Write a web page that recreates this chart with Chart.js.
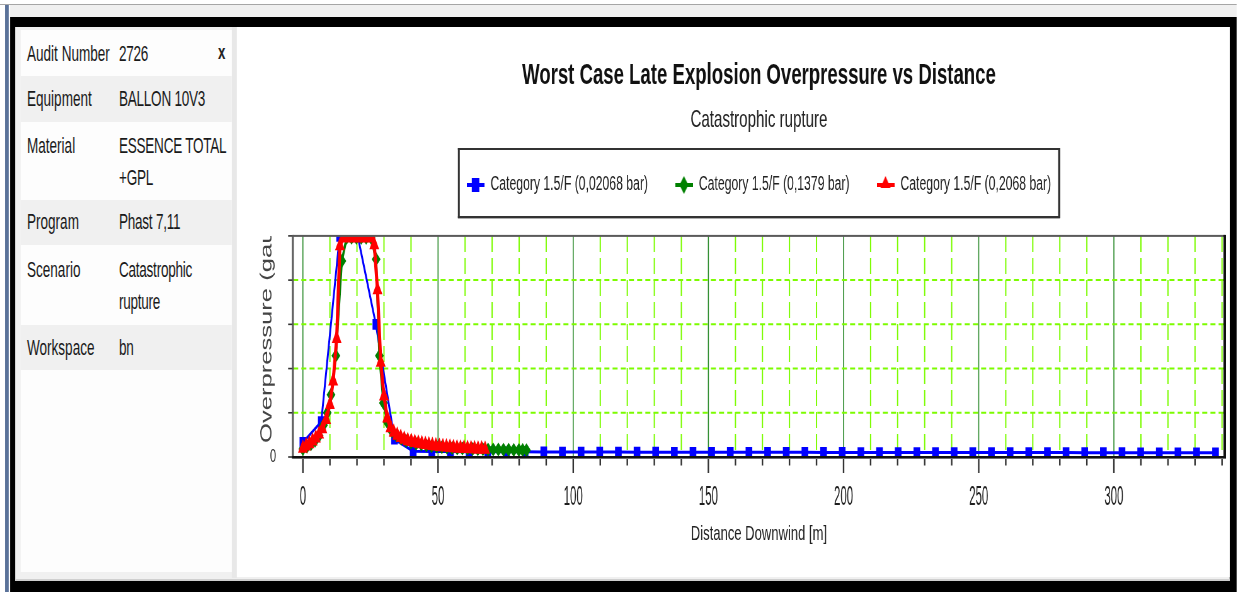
<!DOCTYPE html>
<html>
<head>
<meta charset="utf-8">
<script src="https://cdn.jsdelivr.net/npm/chart.js@4.4.1/dist/chart.umd.min.js"></script>
<style>
  :root { --k: 0.63; }
  html, body { margin: 0; padding: 0; overflow: hidden; background: #fff; }
  #stage {
    position: absolute; left: 0; top: 0;
    width: calc(1237px / var(--k)); height: 592px;
    transform: scaleX(var(--k)); transform-origin: 0 0;
    font-family: "Liberation Sans", Arial, sans-serif;
  }
  .r { position: absolute; }
  #panel { position: absolute; left: calc(21px / var(--k)); top: 30px; width: calc(211px / var(--k)); height: 542px; background: #fdfdfd; }
  .row { position: absolute; left: 0; width: 100%; font-size: 21.5px; line-height: 32px; color: #1a1a1a; box-sizing: border-box; }
  .row.alt { background: #f0f0f0; }
  .lab { position: absolute; left: calc(6px / var(--k)); }
  .val { position: absolute; left: calc(98px / var(--k)); letter-spacing: -0.4px; }
  .close { position: absolute; left: calc(197px / var(--k)); top: 6px; font-weight: bold; font-size: 21px; line-height: 32px; color: #222; }
  #plotWrap { position: absolute; left: calc(238px / var(--k)); top: 27px; }
  #plotWrap canvas { display: block; }
</style>
</head>
<body>
<div id="stage">
  <div class="r" style="left:0;top:4px;width:calc(1237px / var(--k));height:1px;background:#a6a6a6"></div>
  <div class="r" style="left:calc(5px / var(--k));top:5px;width:calc(4px / var(--k));height:587px;background:#5a7299"></div>
  <div class="r" style="left:calc(10px / var(--k));top:5px;width:calc(1227px / var(--k));height:12px;background:#f0f0f0"></div>
  <div class="r" style="left:calc(10px / var(--k));top:17px;width:calc(1227px / var(--k));height:575px;background:#000"></div>
  <div class="r" style="left:calc(15px / var(--k));top:27px;width:calc(1215px / var(--k));height:554px;background:#f0f0f0"></div>
  <div class="r" style="left:calc(15px / var(--k));top:579px;width:calc(1215px / var(--k));height:2px;background:#cfcfcf"></div>
  <div class="r" style="left:calc(232px / var(--k));top:27px;width:calc(5px / var(--k));height:551px;background:#e8e8e8"></div>
  <div class="r" style="left:calc(237px / var(--k));top:27px;width:calc(993px / var(--k));height:550px;background:#fff"></div>

  <div id="panel">
    <div class="row" style="top:0;height:46px;padding-top:8px"><span class="lab">Audit Number</span><span class="val">2726</span></div>
    <div class="close">x</div>
    <div class="row alt" style="top:46px;height:46px;padding-top:7px"><span class="lab">Equipment</span><span class="val">BALLON 10V3</span></div>
    <div class="row" style="top:92px;height:78px;padding-top:8px"><span class="lab">Material</span><span class="val">ESSENCE TOTAL<br>+GPL</span></div>
    <div class="row alt" style="top:170px;height:45px;padding-top:6px"><span class="lab">Program</span><span class="val">Phast 7,11</span></div>
    <div class="row" style="top:215px;height:80px;padding-top:9px"><span class="lab">Scenario</span><span class="val">Catastrophic<br>rupture</span></div>
    <div class="row alt" style="top:295px;height:45px;padding-top:7px"><span class="lab">Workspace</span><span class="val">bn</span></div>
  </div>

  <div id="plotWrap"><canvas id="chart"></canvas></div>
</div>

<script>
// ---- chart text ----
const chartTitle = 'Worst Case Late Explosion Overpressure vs Distance';
const chartSubtitle = 'Catastrophic rupture';
const xTitle = 'Distance Downwind [m]';
const yTitle = 'Overpressure (gauge) [bar]';
const seriesLabels = [
  'Category 1.5/F (0,02068 bar)',
  'Category 1.5/F (0,1379 bar)',
  'Category 1.5/F (0,2068 bar)'
];
const xTickLabels = ['0', '50', '100', '150', '200', '250', '300'];
const yTickLabels = ['0'];

// ---- series: distance [m] and overpressure ----
const blueX = [0, 6.8, 13.6, 20.3, 27.0, 33.9, 40.8, 47.7, 54.6, 61.5,
  68.4, 75.3, 82.2, 89.1, 96.0, 102.9, 109.8, 116.7, 123.6, 130.5,
  137.4, 144.3, 151.2, 158.1, 165.0, 171.9, 178.8, 185.7, 192.6, 199.5,
  206.4, 213.3, 220.2, 227.1, 234.0, 240.9, 247.8, 254.7, 261.6, 268.5,
  275.4, 282.3, 289.2, 296.1, 303.0, 309.9, 316.8, 323.7, 330.6, 337.6];
const blueY = [0.33, 0.80, 4.99, 4.99, 3.00, 0.40, 0.13, 0.125, 0.122, 0.12,
  0.118, 0.117, 0.116, 0.115, 0.114, 0.113, 0.112, 0.111, 0.110, 0.110,
  0.109, 0.108, 0.108, 0.107, 0.106, 0.106, 0.105, 0.105, 0.104, 0.104,
  0.103, 0.103, 0.102, 0.102, 0.101, 0.101, 0.100, 0.100, 0.100, 0.099,
  0.099, 0.099, 0.098, 0.098, 0.098, 0.097, 0.097, 0.097, 0.096, 0.096];

const greenX = [0, 1.5, 3.0, 4.5, 6.0, 7.6, 9.0, 10.4, 12.2, 14.4,
  16.2, 18.0, 19.8, 21.6, 23.4, 25.2, 27.1, 28.3, 29.8, 31.3,
  32.9, 34.6, 36.4, 38.2, 40.0, 41.9, 43.8, 45.7, 47.6, 49.5,
  51.4, 53.3, 55.2, 57.1, 59.0, 60.9, 62.8, 64.7, 66.6, 68.5,
  70.4, 72.3, 74.2, 76.1, 78.0, 79.9, 81.3, 82.7];
const greenY = [0.18, 0.23, 0.29, 0.37, 0.48, 0.72, 1.00, 1.41, 2.29, 4.43,
  4.96, 4.96, 4.96, 4.96, 4.96, 4.96, 4.47, 2.29, 1.22, 0.78,
  0.58, 0.48, 0.41, 0.36, 0.33, 0.30, 0.28, 0.26, 0.245, 0.23,
  0.22, 0.21, 0.20, 0.195, 0.19, 0.185, 0.18, 0.178, 0.175, 0.172,
  0.17, 0.168, 0.165, 0.163, 0.16, 0.158, 0.156, 0.155];

const redX = [0, 1.2, 2.4, 3.6, 4.8, 6.0, 7.2, 8.6, 10.0, 11.2,
  12.5, 13.7, 15.0, 16.3, 17.6, 18.9, 20.2, 21.5, 22.8, 24.1,
  25.4, 26.4, 27.6, 28.8, 30.0, 31.2, 32.4, 33.6, 34.9, 36.2,
  37.5, 38.8, 40.1, 41.4, 42.7, 44.0, 45.3, 46.6, 47.9, 49.2,
  50.5, 51.8, 53.1, 54.4, 55.7, 57.0, 58.3, 59.6, 60.9, 62.2,
  63.5, 64.8, 66.1, 67.4];
const redY = [0.20, 0.25, 0.30, 0.36, 0.43, 0.52, 0.64, 0.85, 1.19, 1.72,
  2.68, 4.78, 4.96, 4.96, 4.96, 4.96, 4.96, 4.96, 4.96, 4.96,
  4.96, 4.80, 3.78, 2.14, 1.38, 0.88, 0.66, 0.56, 0.49, 0.44,
  0.40, 0.37, 0.35, 0.33, 0.31, 0.30, 0.285, 0.27, 0.26, 0.25,
  0.24, 0.232, 0.225, 0.218, 0.212, 0.206, 0.20, 0.196, 0.192, 0.188,
  0.185, 0.182, 0.179, 0.176];

// ---- geometry (the whole window is drawn wide, then squeezed by K) ----
const K = 0.63;
document.documentElement.style.setProperty('--k', K);
const FONT = '"Liberation Sans", Arial, sans-serif';
const CW = Math.round(992 / K);
const CH = 553;
const PLOT_LEFT = 55 / K;
const PLOT_RIGHT = 990 / K;
const PLOT_BOTTOM = 430;

const BLUE = '#0000ff', GREEN = '#008000', RED = '#ff0000';
const LIME = '#7cfc00', DARKGREEN = '#2b8a2b';

const pts = (xs, ys) => xs.map((x, i) => ({ x: x, y: ys[i] }));

// legend symbols: short line with the series marker on it
function legendIcon(color, shape) {
  const c = document.createElement('canvas');
  c.width = 28; c.height = 20;
  const g = c.getContext('2d');
  g.fillStyle = color;
  g.fillRect(0, 8, 28, 4);
  g.beginPath();
  if (shape === 'rect') {
    g.rect(8, 3, 12, 14);
  } else if (shape === 'diamond') {
    g.moveTo(14, 1); g.lineTo(21, 10); g.lineTo(14, 19); g.lineTo(7, 10); g.closePath();
  } else {
    g.moveTo(14, 1); g.lineTo(22, 13); g.lineTo(6, 13); g.closePath();
  }
  g.fill();
  return c;
}
const legendIcons = [legendIcon(BLUE, 'rect'), legendIcon(GREEN, 'diamond'), legendIcon(RED, 'triangle')];

// grid: dashed lime every 10 m / every unit, solid green every 50 m
const plotGrid = {
  id: 'plotGrid',
  beforeDatasetsDraw(chart) {
    const { ctx, chartArea: a, scales: { x, y } } = chart;
    ctx.save();
    for (const t of x.ticks) {
      const px = x.getPixelForValue(t.value);
      if (px < a.left || px > a.right) continue;
      ctx.beginPath();
      if (t.value % 50 === 0) {
        ctx.setLineDash([]); ctx.strokeStyle = DARKGREEN; ctx.lineWidth = 1.6;
      } else {
        ctx.setLineDash([16, 6]); ctx.strokeStyle = LIME; ctx.lineWidth = 2;
      }
      ctx.moveTo(px, a.top); ctx.lineTo(px, a.bottom); ctx.stroke();
    }
    for (const t of y.ticks) {
      const py = y.getPixelForValue(t.value);
      if (py <= a.top + 1) continue;
      ctx.beginPath();
      if (t.value === 0) {
        ctx.setLineDash([]); ctx.strokeStyle = DARKGREEN; ctx.lineWidth = 1.5;
      } else {
        ctx.setLineDash([8, 5]); ctx.strokeStyle = LIME; ctx.lineWidth = 2;
      }
      ctx.moveTo(a.left, py); ctx.lineTo(a.right, py); ctx.stroke();
    }
    ctx.restore();
  }
};

// plot frame, tick marks, x labels, clipped y title, legend frame
const plotFrame = {
  id: 'plotFrame',
  afterDatasetsDraw(chart) {
    const { ctx, chartArea: a, scales: { x, y } } = chart;
    ctx.save();
    ctx.fillStyle = '#5a5a5a';
    ctx.fillRect(a.left, a.top - 1, a.right - a.left, 2);
    ctx.fillRect(a.left - 2, a.top - 1, 3, a.bottom - a.top + 2);
    ctx.fillStyle = '#111';
    ctx.fillRect(a.right - 2, a.top - 1, 4, a.bottom - a.top + 2);
    ctx.fillRect(a.left - 2, a.bottom - 1, a.right - a.left + 4, 2.6);
    // y tick marks
    ctx.fillStyle = '#333';
    for (const t of y.ticks) {
      const py = y.getPixelForValue(t.value);
      ctx.fillRect(a.left - 8, py - 0.8, 6.5, 1.6);
    }
    // x tick marks, longer at labelled values
    for (const t of x.ticks) {
      const px = x.getPixelForValue(t.value);
      if (px < a.left || px > a.right + 1) continue;
      const major = xTickLabels.includes(String(t.value));
      ctx.fillRect(px - 1.2, a.bottom + 2, 2.4, major ? 14 : 6.5);
    }
    // x tick labels (narrow face)
    ctx.fillStyle = '#1e1e1e';
    ctx.font = '27px ' + FONT;
    ctx.textAlign = 'center';
    ctx.textBaseline = 'middle';
    for (const t of x.ticks) {
      const s = String(t.value);
      if (!xTickLabels.includes(s)) continue;
      ctx.save();
      ctx.translate(x.getPixelForValue(t.value), a.bottom + 40.5);
      ctx.scale(0.67, 1);
      ctx.fillText(s, 0, 0);
      ctx.restore();
    }
    ctx.restore();
  },
  afterDraw(chart) {
    const { ctx, chartArea: a } = chart;
    // y axis title, cut off at the top of the plot
    ctx.save();
    ctx.beginPath();
    ctx.rect(0, a.top, a.left, chart.height - a.top);
    ctx.clip();
    ctx.translate(46, 416);
    ctx.rotate(-Math.PI / 2);
    ctx.font = '25.6px ' + FONT;
    ctx.fillStyle = '#444';
    ctx.textAlign = 'left';
    ctx.textBaseline = 'middle';
    ctx.fillText(yTitle, 0, 0);
    ctx.restore();
    // legend frame
    const hb = chart.legend.legendHitBoxes;
    if (hb && hb.length) {
      const last = hb[hb.length - 1];
      const l = hb[0].left - 14;
      const r = last.left + last.width + 14;
      const cy = hb[0].top + hb[0].height / 2;
      const t = cy - 37, b = cy + 33;
      ctx.save();
      ctx.fillStyle = '#333';
      ctx.fillRect(l, t, r - l, 2);
      ctx.fillRect(l, b - 2, r - l, 2.4);
      ctx.fillRect(l, t, 3, b - t);
      ctx.fillRect(r - 3, t, 3.5, b - t);
      ctx.restore();
    }
  }
};

const canvas = document.getElementById('chart');
canvas.width = CW;
canvas.height = CH;
Chart.defaults.font.family = FONT;

new Chart(canvas, {
  type: 'line',
  data: {
    datasets: [
      { label: seriesLabels[0], data: pts(blueX, blueY), borderColor: BLUE, backgroundColor: BLUE,
        borderWidth: 3, pointStyle: 'rect', pointRadius: 7.5, pointBorderWidth: 0, order: 3 },
      { label: seriesLabels[1], data: pts(greenX, greenY), borderColor: GREEN, backgroundColor: GREEN,
        borderWidth: 3.5, pointStyle: 'rectRot', pointRadius: 7, pointBorderWidth: 0, order: 2 },
      { label: seriesLabels[2], data: pts(redX, redY), borderColor: RED, backgroundColor: RED,
        borderWidth: 5, pointStyle: 'triangle', pointRadius: 9, pointBorderWidth: 0, order: 1 }
    ]
  },
  options: {
    responsive: false,
    maintainAspectRatio: false,
    animation: false,
    events: [],
    layout: { padding: { left: 0, right: CW - PLOT_RIGHT, top: 0, bottom: 0 } },
    elements: { line: { tension: 0 } },
    plugins: {
      tooltip: { enabled: false },
      title: {
        display: true, text: chartTitle, fullSize: false, color: '#111',
        font: { size: 29.5, weight: 'bold', lineHeight: 1.0 },
        padding: { top: 34.25, bottom: 17.25 }
      },
      subtitle: {
        display: true, text: chartSubtitle, fullSize: false, color: '#222',
        font: { size: 24, lineHeight: 1.0 },
        padding: { top: 0, bottom: 0.3 }
      },
      legend: {
        display: true, position: 'top', fullSize: false,
        labels: {
          usePointStyle: true, pointStyleWidth: 28, padding: 43, color: '#222',
          font: { size: 19.4 },
          generateLabels(chart) {
            const items = Chart.defaults.plugins.legend.labels.generateLabels(chart);
            items.sort((p, q) => p.datasetIndex - q.datasetIndex);
            return items.map(it => Object.assign(it, { pointStyle: legendIcons[it.datasetIndex], lineWidth: 0 }));
          }
        }
      }
    },
    scales: {
      x: {
        type: 'linear', position: 'bottom', min: -3.6, max: 341,
        grid: { display: false }, border: { display: false },
        ticks: { display: false, stepSize: 10, includeBounds: false, autoSkip: false },
        title: { display: true, text: xTitle, color: '#222', font: { size: 20.7, lineHeight: 1.2 }, padding: { top: 0, bottom: 33.1 } },
        afterFit(s) { s.height = CH - PLOT_BOTTOM; }
      },
      y: {
        type: 'linear', position: 'left', min: 0, max: 5,
        grid: { display: false }, border: { display: false },
        ticks: { stepSize: 1, padding: 19, color: '#222', font: { size: 17.5 },
          callback: v => yTickLabels.includes(String(v)) ? String(v) : '' },
        afterFit(s) { s.width = PLOT_LEFT; }
      },
      gap: {
        type: 'linear', position: 'top', axis: 'x', display: true,
        grid: { display: false, drawTicks: false }, border: { display: false },
        ticks: { display: false },
        afterFit(s) { s.height = 31.2; }
      }
    }
  },
  plugins: [plotGrid, plotFrame]
});
</script>
</body>
</html>
